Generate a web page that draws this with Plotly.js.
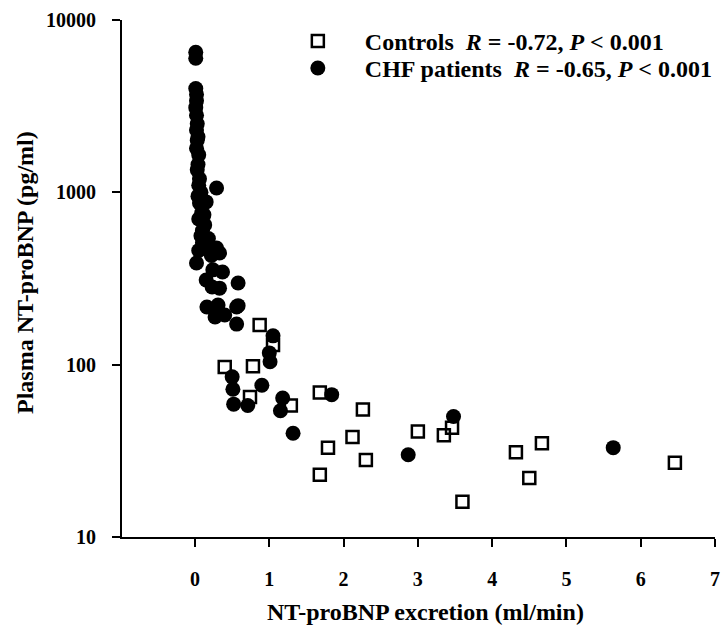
<!DOCTYPE html>
<html>
<head>
<meta charset="utf-8">
<script src="https://cdn.plot.ly/plotly-3.0.1.min.js"></script>
<style>html,body{margin:0;padding:0;background:#fff;}#chart{width:722px;height:633px;}</style>
</head>
<body>
<div id="chart"></div>
<script>
// Controls: NT-proBNP excretion (ml/min) vs plasma NT-proBNP (pg/ml)
const controlsX = [0.87, 1.05, 0.40, 0.78, 0.74, 1.29, 1.68, 2.26, 1.79, 2.12, 2.30, 1.68, 3.00, 3.35, 3.46, 3.60, 4.32, 4.67, 4.50, 6.46];
const controlsY = [170, 130, 97, 98, 65, 58, 69, 55, 33, 38, 28, 23, 41, 39, 43, 16, 31, 35, 22, 27];

// CHF patients
const chfX = [0.01, 0.01, 0.01, 0.02, 0.02, 0.01, 0.02, 0.03, 0.02, 0.04, 0.03, 0.02, 0.05, 0.04, 0.03, 0.06, 0.05, 0.08, 0.29, 0.04,
              0.10, 0.06, 0.15, 0.09, 0.12, 0.05, 0.13, 0.10, 0.08, 0.18, 0.10, 0.29, 0.33, 0.13, 0.05, 0.20, 0.22, 0.02, 0.24, 0.37,
              0.58, 0.23, 0.33, 0.15, 0.16, 0.31, 0.56, 0.58, 0.27, 0.40, 0.56,
              1.05, 1.00, 1.01, 0.50, 0.51, 0.90, 0.52, 0.71, 1.18, 1.15, 1.84, 1.32, 3.48, 2.87, 5.63];
const chfY = [6500, 6000, 4000, 3700, 3400, 3100, 2800, 2500, 2300, 2100, 2000, 1800, 1650, 1450, 1350, 1200, 1100, 1000, 1060, 950,
              900, 867, 880, 760, 740, 700, 647, 600, 560, 540, 510, 475, 445, 490, 460, 470, 430, 389, 355, 345,
              298, 282, 278, 310, 216, 222, 216, 220, 189, 194, 172,
              147, 117, 104, 85, 72, 76, 59, 58, 64, 54, 67, 40, 50, 30, 33];

const xTicks = [0, 1, 2, 3, 4, 5, 6, 7];
const xTickText = ['0', '1', '2', '3', '4', '5', '6', '7'];
const yTicks = [10, 100, 1000, 10000];
const yTickText = ['10', '100', '1000', '10000'];

const serif = 'Liberation Serif, Times New Roman, serif';
const bold = arr => arr.map(t => '<b>' + t + '</b>');

const traces = [
  {
    x: controlsX, y: controlsY, type: 'scatter', mode: 'markers', legend: 'legend',
    name: '<b>Controls  <i>R</i> = -0.72, <i>P</i> &lt; 0.001</b>',
    marker: {symbol: 'square-open', size: 12, color: '#000', line: {width: 2.5, color: '#000'}}
  },
  {
    x: chfX, y: chfY, type: 'scatter', mode: 'markers', legend: 'legend2',
    name: '<b>CHF patients  <i>R</i> = -0.65, <i>P</i> &lt; 0.001</b>',
    marker: {symbol: 'circle', size: 15, color: '#000'}
  }
];

const legendBase = {xanchor: 'left', yanchor: 'top', bgcolor: 'rgba(0,0,0,0)',
                    font: {family: serif, size: 24, color: '#000'}, itemwidth: 84};

const layout = {
  width: 722, height: 633,
  margin: {l: 122, r: 7, t: 20, b: 96, autoexpand: false},
  paper_bgcolor: '#fff', plot_bgcolor: '#fff',
  font: {family: serif, color: '#000', size: 20},
  showlegend: true,
  legend: Object.assign({}, legendBase, {x: 0.251, y: 1.002}),
  legend2: Object.assign({}, legendBase, {x: 0.251, y: 0.950}),
  xaxis: {
    range: [-0.983, 7], tickvals: xTicks, ticktext: bold(xTickText), showgrid: false, zeroline: false,
    showline: true, linecolor: '#000', linewidth: 2,
    ticks: 'outside', ticklen: 8, tickwidth: 2, tickcolor: '#000',
    ticklabelstandoff: 15, automargin: false,
    tickfont: {family: serif, size: 20, color: '#000'}
  },
  yaxis: {
    type: 'log', range: [1, 4], tickvals: yTicks, ticktext: bold(yTickText), showgrid: false, zeroline: false,
    showline: true, linecolor: '#000', linewidth: 2,
    ticks: 'outside', ticklen: 8, tickwidth: 2, tickcolor: '#000',
    ticklabelstandoff: 12, automargin: false,
    tickfont: {family: serif, size: 20, color: '#000'}
  },
  annotations: [
    {text: '<b>NT-proBNP excretion (ml/min)</b>', xref: 'paper', yref: 'paper', x: 0.511, y: -0.145,
     xanchor: 'center', yanchor: 'middle', showarrow: false, font: {family: serif, size: 24, color: '#000'}},
    {text: '<b>Plasma NT-proBNP (pg/ml)</b>', xref: 'paper', yref: 'paper', x: -0.1636, y: 0.5126,
     xanchor: 'center', yanchor: 'middle', textangle: -90, showarrow: false, font: {family: serif, size: 24, color: '#000'}}
  ]
};

Plotly.newPlot('chart', traces, layout, {displayModeBar: false, staticPlot: true});
</script>
</body>
</html>
